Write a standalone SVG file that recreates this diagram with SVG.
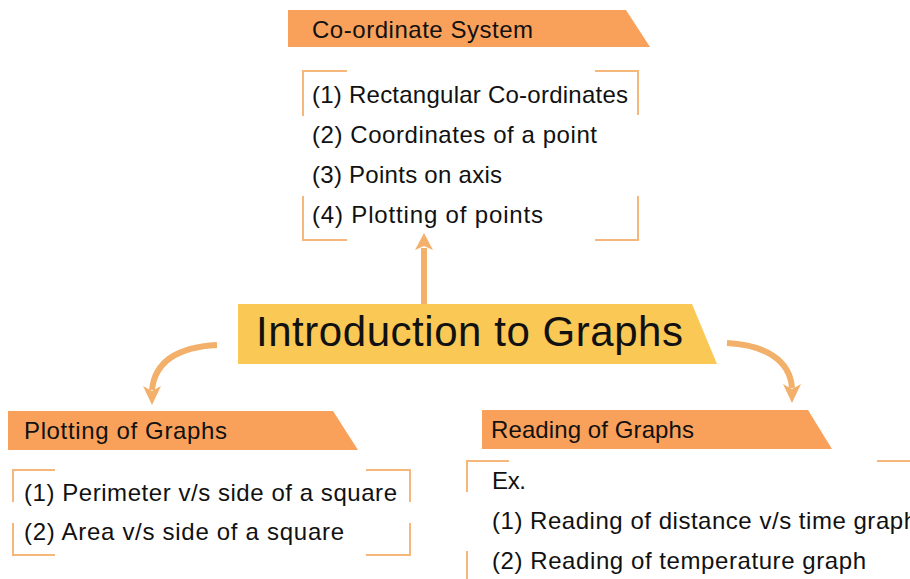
<svg xmlns="http://www.w3.org/2000/svg" width="910" height="579" viewBox="0 0 910 579">
<style>
text{font-family:"Liberation Sans","DejaVu Sans",sans-serif;fill:#111;}
.h{font-size:24px;}
.t{font-size:24px;}
.b{fill:#F9A15B;}
.br{fill:none;stroke:#F6B77A;stroke-width:2;}
.ar{fill:none;stroke:#F2B06A;stroke-width:6;}
.ah{fill:#F2B06A;}
</style>
<rect width="910" height="579" fill="#fff"/>
<g id="connectors">
<path class="ar" d="M424,305 L424,248"/>
<path class="ah" d="M424,233 L433,250 L424,246 L415,250 Z"/>
<path class="ar" d="M217,345 C180,347 155,360 152,390"/>
<path class="ah" d="M152,405 L143,386 L152,391 L161,386 Z"/>
<path class="ar" d="M727,343 C765,345 790,360 792,388"/>
<path class="ah" d="M792,403 L783,384 L792,389 L801,384 Z"/>
</g>
<g id="intro">
<path d="M238,304 L692,304 L717,364 L238,364 Z" fill="#FAC855"/>
<text x="256" y="346" style="font-size:42px" textLength="427">Introduction to Graphs</text>
</g>
<g id="coord">
<path class="b" d="M288,10 L626,10 L650,47 L288,47 Z"/>
<text class="h" x="312" y="38" textLength="221">Co-ordinate System</text>
<path class="br" d="M303,116 V71 H347 M595,71 H638 V115 M303,196 V240 H347 M595,240 H638 V196"/>
<text class="t" x="312" y="103" textLength="316">(1) Rectangular Co-ordinates</text>
<text class="t" x="312" y="143" textLength="285">(2) Coordinates of a point</text>
<text class="t" x="312" y="183" textLength="190">(3) Points on axis</text>
<text class="t" x="312" y="223" textLength="231">(4) Plotting of points</text>
</g>
<g id="plotting">
<path class="b" d="M8,411 L333,411 L358,450 L8,450 Z"/>
<text class="h" x="24" y="439" textLength="203">Plotting of Graphs</text>
<path class="br" d="M13,502 V470 H55 M366,470 H410 V502 M13,523 V555 H55 M366,555 H410 V523"/>
<text class="t" x="24" y="501" textLength="373">(1) Perimeter v/s side of a square</text>
<text class="t" x="24" y="540" textLength="320">(2) Area v/s side of a square</text>
</g>
<g id="reading">
<path class="b" d="M482,410 L808,410 L832,449 L482,449 Z"/>
<text class="h" x="491" y="438" textLength="203">Reading of Graphs</text>
<path class="br" d="M467,492 V461 H509 M877,461 H910 M467,551 V579"/>
<text class="t" x="492" y="489" textLength="34">Ex.</text>
<text class="t" x="492" y="529" textLength="425">(1) Reading of distance v/s time graph</text>
<text class="t" x="492" y="569" textLength="374">(2) Reading of temperature graph</text>
</g>
</svg>
